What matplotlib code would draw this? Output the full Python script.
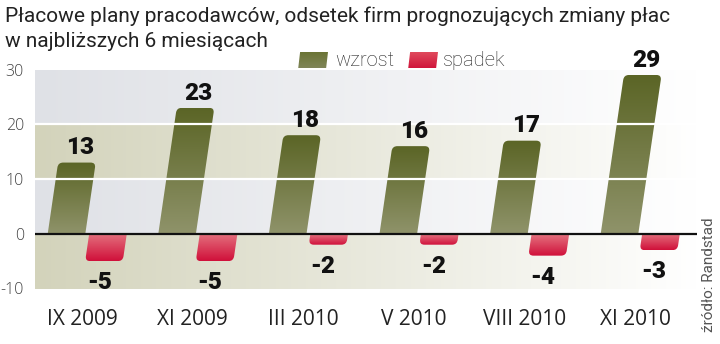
import numpy as np
import matplotlib
matplotlib.use("Agg")
import matplotlib.pyplot as plt
from matplotlib.path import Path
from matplotlib.patches import PathPatch
from matplotlib.colors import to_rgb

# ---- data -------------------------------------------------------------
periods = ["IX 2009", "XI 2009", "III 2010", "V 2010", "VIII 2010", "XI 2010"]
wzrost = [13, 23, 18, 16, 17, 29]
spadek = [-5, -5, -2, -2, -4, -3]
y_ticks = [-10, 0, 10, 20, 30]

title_lines = ["Płacowe plany pracodawców, odsetek firm prognozujących zmiany płac",
               "w najbliższych 6 miesiącach"]
source = "źródło: Randstad"

# ---- style ------------------------------------------------------------
NARROW = ["Roboto", "DejaVu Sans"]
SANS = ["Open Sans", "DejaVu Sans"]

GREEN_TOP, GREEN_BOT = "#5b6526", "#8f936a"
RED_TOP, RED_BOT = "#e4727f", "#d0103a"
BAND_OLIVE, BAND_GREY = "#d3d3bb", "#dfe1e6"

W, H, DPI = 720, 344, 100
fig = plt.figure(figsize=(W / DPI, H / DPI), dpi=DPI)
fig.patch.set_facecolor("white")

ax_l, ax_r, ax_t, ax_b = 35, 697, 69.5, 288.5
ax = fig.add_axes([ax_l / W, 1 - ax_b / H, (ax_r - ax_l) / W, (ax_b - ax_t) / H])

spacing_px = 110.6
x0_px = 82
xmin = -(x0_px - ax_l) / spacing_px
xmax = (len(periods) - 1) + (ax_r - (x0_px + spacing_px * (len(periods) - 1))) / spacing_px
ymin, ymax = -10, 30
px_per_x = spacing_px
px_per_y = (ax_b - ax_t) / (ymax - ymin)

# background: horizontal bands fading to white towards the right
nx = 400
fade = np.linspace(0, 1, nx)
bands = [(20, 30, BAND_GREY), (10, 20, BAND_OLIVE), (0, 10, BAND_GREY), (-10, 0, BAND_OLIVE)]
for lo, hi, col in bands:
    c = np.array(to_rgb(col))
    row = c[None, :] + (1 - c[None, :]) * fade[:, None]
    img = np.repeat(row[None, :, :], 2, axis=0)
    ax.imshow(img, extent=[xmin, xmax, lo, hi], aspect="auto", zorder=0,
              interpolation="bilinear")

# slanted bars with rounded outer corners
shear = 0.8 / px_per_x  # data-x shift per data-y unit
bar_w = 0.34
rx = 5 / px_per_x
ry = 5 / px_per_y


def bar_path(xc, v):
    xl, xr = xc - bar_w / 2, xc + bar_w / 2
    if v >= 0:
        verts = [(xl, 0), (xr, 0), (xr, v - ry), (xr, v), (xr - rx, v),
                 (xl + rx, v), (xl, v), (xl, v - ry), (xl, 0)]
        codes = [Path.MOVETO, Path.LINETO, Path.LINETO, Path.CURVE3, Path.CURVE3,
                 Path.LINETO, Path.CURVE3, Path.CURVE3, Path.CLOSEPOLY]
    else:
        verts = [(xl, 0), (xl, v + ry), (xl, v), (xl + rx, v), (xr - rx, v),
                 (xr, v), (xr, v + ry), (xr, 0), (xl, 0)]
        codes = [Path.MOVETO, Path.LINETO, Path.CURVE3, Path.CURVE3, Path.LINETO,
                 Path.CURVE3, Path.CURVE3, Path.LINETO, Path.CLOSEPOLY]
    verts = [(x + shear * y, y) for x, y in verts]
    return Path(verts, codes)


def gradient_bar(xc, v, c_far, c_near):
    """Bar filled with a vertical gradient from the zero line (c_near) to its end (c_far)."""
    path = bar_path(xc, v)
    patch = PathPatch(path, facecolor="none", edgecolor="none", zorder=2)
    ax.add_patch(patch)
    n = 100
    t = np.linspace(0, 1, n)[:, None]
    a, b = np.array(to_rgb(c_near)), np.array(to_rgb(c_far))
    grad = a[None, :] * (1 - t) + b[None, :] * t  # row 0 = zero line
    x_lo = xc - bar_w / 2 + min(0, shear * v) - 0.01
    x_hi = xc + bar_w / 2 + max(0, shear * v) + 0.01
    if v >= 0:
        img = grad[::-1][:, None, :].repeat(2, axis=1)
        ext = [x_lo, x_hi, 0, v]
    else:
        img = grad[:, None, :].repeat(2, axis=1)
        ext = [x_lo, x_hi, v, 0]
    im = ax.imshow(img, extent=ext, aspect="auto", zorder=2, interpolation="bilinear")
    im.set_clip_path(patch)


label_kw = dict(fontfamily=NARROW, fontweight="heavy", fontsize=17.5, color="#111111",
                ha="center", va="baseline", clip_on=False, zorder=5)

for i, (up, down) in enumerate(zip(wzrost, spadek)):
    xg = i - 0.14
    xs = i + 0.235
    gradient_bar(xg, up, GREEN_TOP, GREEN_BOT)
    gradient_bar(xs, down, RED_BOT, RED_TOP)
    ax.text(xg + shear * up + 0.03, up + 1.5, f"{up}", **label_kw)
    ax.text(xs + shear * down - 0.04, down - 5.15, f"{down}", **label_kw)
    ax.text(i, -15.7, periods[i], ha="center", va="center", fontfamily=SANS,
            fontsize=15, color="#222222", clip_on=False)

# white grid lines over everything, black zero line
for gy in (10, 20):
    ax.axhline(gy, color="white", lw=1.6, zorder=3)
ax.axhline(0, color="#111111", lw=1.6, zorder=4)

ax.set_xlim(xmin, xmax)
ax.set_ylim(ymin, ymax)
ax.set_xticks([])
ax.set_yticks(y_ticks)
ax.set_yticklabels([str(t) for t in y_ticks], fontfamily=SANS, fontweight="light",
                   fontsize=11.5, color="#444444")
ax.tick_params(axis="y", length=0, pad=8)
for s in ax.spines.values():
    s.set_visible(False)

# title, one text per line
fig.text(5 / W, 1 - 22 / H, title_lines[0], ha="left", va="baseline", fontfamily=NARROW,
         fontsize=15, color="#222222")
fig.text(5 / W, 1 - 47 / H, title_lines[1], ha="left", va="baseline", fontfamily=NARROW,
         fontsize=15, color="#222222")

# legend
def legend_swatch(x_px, y_px, w_px, h_px, c_top, c_bot):
    lax = fig.add_axes([x_px / W, 1 - (y_px + h_px) / H, w_px / W, h_px / H])
    lax.set_xlim(0, 1)
    lax.set_ylim(0, 1)
    lax.axis("off")
    verts = [(0.04, 0), (0.94, 0), (1.0, 1), (0.1, 1), (0.04, 0)]
    patch = PathPatch(Path(verts, closed=True), facecolor="none", edgecolor="none")
    lax.add_patch(patch)
    t = np.linspace(0, 1, 50)[:, None]
    a, b = np.array(to_rgb(c_top)), np.array(to_rgb(c_bot))
    img = (a[None, :] * (1 - t) + b[None, :] * t)[:, None, :].repeat(2, axis=1)
    im = lax.imshow(img, extent=[0, 1, 0, 1], aspect="auto", interpolation="bilinear")
    im.set_clip_path(patch)


legend_swatch(297, 52, 31, 16, "#6b7435", "#7f8558")
fig.text(335 / W, 1 - 60 / H, "wzrost", ha="left", va="center", fontfamily=NARROW,
         fontweight="light", fontsize=14.5, color="#222222")
legend_swatch(407, 52, 31, 16, "#e04a5c", "#d0163c")
fig.text(443 / W, 1 - 60 / H, "spadek", ha="left", va="center", fontfamily=NARROW,
         fontweight="light", fontsize=14.5, color="#222222")

# source note
fig.text(709 / W, 1 - 275 / H, source, rotation=90, ha="center", va="center",
         fontfamily=NARROW, fontsize=11, color="#555555")

fig.savefig("out.png", dpi=DPI, facecolor="white")
